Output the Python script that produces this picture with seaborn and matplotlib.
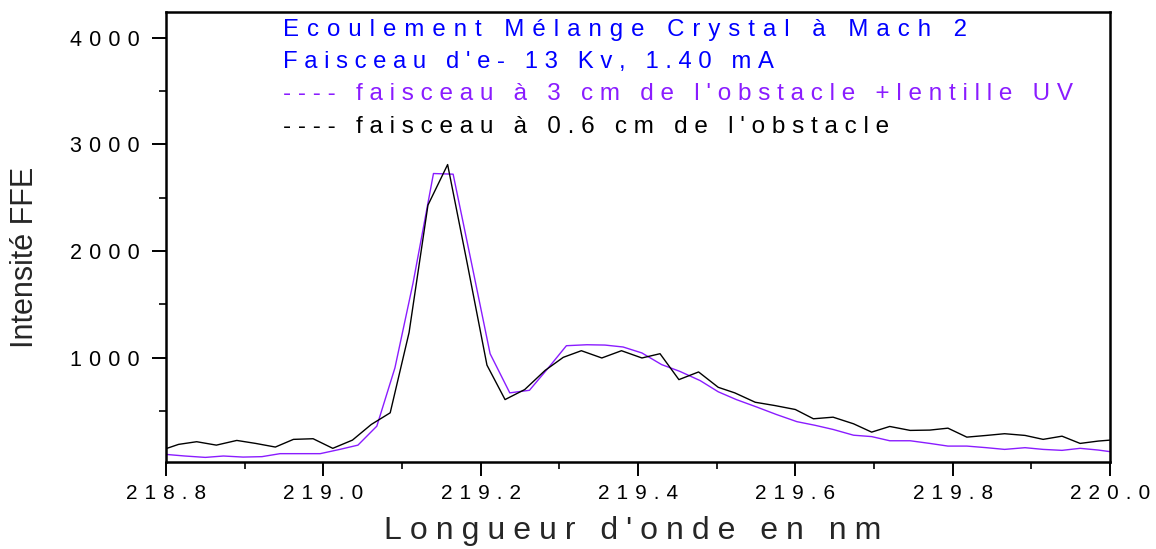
import matplotlib
matplotlib.use("Agg")
import matplotlib.pyplot as plt
from matplotlib.ticker import FixedLocator
import seaborn as sns

# FFE intensity vs wavelength, beam 0.6 cm from the obstacle
wl_near = [218.800, 218.816, 218.839, 218.864, 218.890, 218.914, 218.939, 218.962, 218.987, 219.012,
           219.037, 219.061, 219.085, 219.109, 219.133, 219.158, 219.183, 219.208, 219.231, 219.256,
           219.282, 219.305, 219.328, 219.354, 219.379, 219.405, 219.428, 219.452, 219.477, 219.502,
           219.523, 219.549, 219.574, 219.600, 219.623, 219.648, 219.674, 219.697, 219.720, 219.746,
           219.771, 219.794, 219.818, 219.843, 219.866, 219.892, 219.915, 219.939, 219.962, 219.985,
           220.000]
int_near = [147, 187, 212, 180, 224, 196, 162, 234, 240, 150,
            227, 374, 483, 1236, 2430, 2810, 1880, 930, 607, 701,
            881, 1003, 1065, 997, 1065, 997, 1037, 794, 866, 722,
            670, 582, 551, 514, 427, 442, 380, 302, 355, 318,
            321, 339, 255, 271, 287, 271, 234, 264, 196, 218,
            227]

# beam 3 cm from the obstacle, with UV lens
wl_far = [218.800, 218.824, 218.850, 218.873, 218.898, 218.922, 218.945, 218.970, 218.996, 219.021,
          219.044, 219.068, 219.091, 219.114, 219.140, 219.165, 219.188, 219.212, 219.237, 219.262,
          219.286, 219.309, 219.335, 219.358, 219.381, 219.405, 219.430, 219.453, 219.479, 219.502,
          219.525, 219.551, 219.576, 219.602, 219.625, 219.648, 219.674, 219.697, 219.720, 219.746,
          219.771, 219.794, 219.818, 219.843, 219.866, 219.892, 219.915, 219.939, 219.962, 219.985,
          220.000]
int_far = [93, 78, 65, 78, 68, 72, 100, 100, 100, 140,
           180, 358, 904, 1698, 2726, 2720, 1900, 1037, 670, 694,
           904, 1112, 1121, 1118, 1100, 1044, 935, 872, 785, 680,
           607, 537, 467, 400, 366, 327, 273, 260, 221, 221,
           196, 171, 171, 156, 140, 156, 140, 131, 150, 134,
           119]

x_major = [218.8, 219.0, 219.2, 219.4, 219.6, 219.8, 220.0]
x_minor = [218.9, 219.1, 219.3, 219.5, 219.7, 219.9]
y_major = [1000, 2000, 3000, 4000]
y_minor = [500, 1500, 2500, 3500]

header_lines = [
    "Ecoulement Mélange Crystal à Mach 2",
    "Faisceau d'e- 13 Kv, 1.40 mA",
    "---- faisceau à 3 cm de l'obstacle +lentille UV",
    "---- faisceau à 0.6 cm de l'obstacle",
]
x_title = "Longueur d'onde en nm"
y_title = "Intensité FFE"

VIOLET = "#8a1cff"
BLUE = "#0000ff"
header_colors = [BLUE, BLUE, VIOLET, "black"]
header_gaps = ["\u2004", "\u2008", "\u2008", "\u2008"]
header_sizes = [17.3, 17.2, 17.5, 17.5]


def tracked(s, gap="\u2004"):
    """Spread the letters of a string apart (wide letter spacing)."""
    return gap.join(s)


sns.set_style("ticks")
plt.rcParams["font.family"] = ["Liberation Sans", "DejaVu Sans"]

fig = plt.figure(figsize=(11.56, 5.49), dpi=100)
ax = fig.add_axes([0.1436, 0.1585, 0.8166, 0.8196])

sns.lineplot(x=wl_far, y=int_far, color=VIOLET, lw=1.0, ax=ax)
sns.lineplot(x=wl_near, y=int_near, color="black", lw=1.0, ax=ax)

ax.set_xlim(218.8, 220.0)
ax.set_ylim(22, 4240)

ax.xaxis.set_major_locator(FixedLocator(x_major))
ax.xaxis.set_minor_locator(FixedLocator(x_minor))
ax.yaxis.set_major_locator(FixedLocator(y_major))
ax.yaxis.set_minor_locator(FixedLocator(y_minor))
ax.set_xticklabels([tracked(f"{v:.1f}") for v in x_major])
ax.set_yticklabels([tracked(f"{v:d}") for v in y_major])

ax.tick_params(axis="both", which="major", direction="out", length=10, width=1.4,
               labelsize=15, colors="black")
ax.tick_params(axis="x", which="major", pad=6)
ax.tick_params(axis="y", which="major", pad=9, labelsize=15.5)
ax.tick_params(axis="both", which="minor", direction="out", length=5, width=1.4)
ax.tick_params(top=False, right=False)

for side in ["left", "right", "top", "bottom"]:
    ax.spines[side].set_visible(True)
    ax.spines[side].set_linewidth(1.8)
    ax.spines[side].set_color("black")

ax.set_xlabel(tracked(x_title, "\u2005"), fontsize=23)
ax.xaxis.set_label_coords(0.494, -0.12)
ax.set_ylabel(y_title, fontsize=22)
ax.yaxis.set_label_coords(-0.133, 0.455)

baselines = [0.9467, 0.8756, 0.8044, 0.7311]
for text, color, gap, size, yb in zip(header_lines, header_colors, header_gaps,
                                      header_sizes, baselines):
    ax.text(0.124, yb, tracked(text, gap), transform=ax.transAxes, color=color,
            fontsize=size, ha="left", va="baseline")

fig.savefig("out.png", dpi=100)
